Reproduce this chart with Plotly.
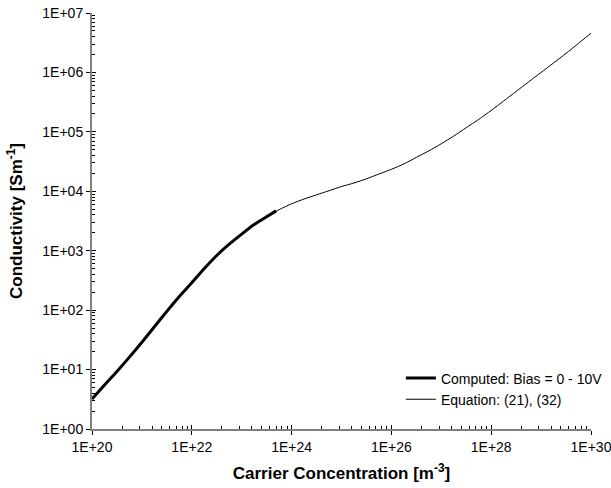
import plotly.graph_objects as go

# Equation (21), (32): conductivity [S/m] vs carrier concentration [m^-3]
eq_n = [1e20, 1.78e20, 3.16e20, 5.62e20,
        1e21, 1.78e21, 3.16e21, 5.62e21,
        1e22, 1.78e22, 3.16e22, 5.62e22,
        1e23, 1.78e23, 3.16e23, 5.62e23,
        1e24, 1.78e24, 3.16e24, 5.62e24,
        1e25, 1.78e25, 3.16e25, 5.62e25,
        1e26, 1.78e26, 3.16e26, 5.62e26,
        1e27, 1.78e27, 3.16e27, 5.62e27,
        1e28, 1.78e28, 3.16e28, 5.62e28,
        1e29, 1.78e29, 3.16e29, 5.62e29,
        1e30]
eq_sigma = [3.2, 5.5, 9.3, 16.2,
            28.8, 52.5, 95.5, 170,
            288, 501, 832, 1290,
            1905, 2754, 3715, 4898,
            6166, 7413, 8710, 10230,
            12020, 13800, 16220, 19500,
            23440, 28840, 37150, 47860,
            63100, 85110, 117500, 162200,
            229100, 331100, 478600, 691800,
            1000000, 1445000, 2089000, 3090000,
            4571000]

# Computed results for bias 0 - 10 V
comp_n = [1e20, 1.78e20, 3.16e20, 5.62e20,
          1e21, 1.78e21, 3.16e21, 5.62e21,
          1e22, 1.78e22, 3.16e22, 5.62e22,
          1e23, 1.78e23, 3.16e23, 4.9e23]
comp_sigma = [3.2, 5.5, 9.3, 16.2,
              28.8, 52.5, 95.5, 170,
              288, 501, 832, 1290,
              1905, 2754, 3715, 4680]

x_major = [1e20, 1e22, 1e24, 1e26, 1e28, 1e30]
x_labels = ["1E+20", "1E+22", "1E+24", "1E+26", "1E+28", "1E+30"]
y_major = [1e0, 1e1, 1e2, 1e3, 1e4, 1e5, 1e6, 1e7]
y_labels = ["1E+00", "1E+01", "1E+02", "1E+03", "1E+04", "1E+05", "1E+06", "1E+07"]

# minor ticks: base-100 axis -> k^2 steps, base-10 axis -> k steps
x_minor = [v * k * k for v in x_major[:-1] for k in range(2, 10)]
y_minor = [v * k for v in y_major[:-1] for k in range(2, 10)]

FONT = "Liberation Sans, Arial, sans-serif"
AXIS_GRAY = "#808080"
TICK_SIZE = 14
TITLE_SIZE = 17

fig = go.Figure()
fig.add_trace(go.Scatter(x=comp_n, y=comp_sigma, mode="lines",
                         line=dict(color="black", width=3, shape="spline", smoothing=0.6),
                         name="Computed: Bias = 0 - 10V"))
fig.add_trace(go.Scatter(x=eq_n, y=eq_sigma, mode="lines",
                         line=dict(color="black", width=1, shape="spline", smoothing=0.6),
                         name="Equation: (21), (32)"))
# helper trace for the inner half of the major ticks
fig.add_trace(go.Scatter(x=[1e25], y=[10], xaxis="x2", yaxis="y2", mode="markers",
                         marker=dict(opacity=0), showlegend=False, hoverinfo="skip"))

xrange = [20, 30]
yrange = [0, 7]

fig.update_layout(
    width=611, height=488, autosize=False,
    margin=dict(l=92, r=20, t=13, b=59, autoexpand=False),
    paper_bgcolor="white", plot_bgcolor="white",
    font=dict(family=FONT, size=TICK_SIZE, color="black"),
    xaxis=dict(
        type="log", range=xrange, showgrid=False, zeroline=False, automargin=False,
        showline=True, linecolor=AXIS_GRAY, linewidth=2,
        tickmode="array", tickvals=x_major, ticktext=x_labels,
        ticklabeloverflow="allow",
        ticks="outside", ticklen=4, tickcolor="black", tickwidth=1,
        minor=dict(tickmode="array", tickvals=x_minor, ticks="inside",
                   ticklen=3, tickcolor="black", tickwidth=1, showgrid=False),
        tickfont=dict(size=TICK_SIZE),
        title=dict(text="<b>Carrier Concentration [m<sup>-3</sup>]</b>",
                   font=dict(size=TITLE_SIZE), standoff=13),
    ),
    yaxis=dict(
        type="log", range=yrange, showgrid=False, zeroline=False, automargin=False,
        showline=True, linecolor=AXIS_GRAY, linewidth=2,
        tickmode="array", tickvals=y_major, ticktext=y_labels,
        ticklabeloverflow="allow",
        ticks="outside", ticklen=4, tickcolor="black", tickwidth=1,
        minor=dict(tickmode="array", tickvals=y_minor, ticks="inside",
                   ticklen=3, tickcolor="black", tickwidth=1, showgrid=False),
        tickfont=dict(size=TICK_SIZE),
        title=dict(text="<b>Conductivity [Sm<sup>-1</sup>]</b>",
                   font=dict(size=TITLE_SIZE), standoff=15),
    ),
    xaxis2=dict(
        type="log", range=xrange, overlaying="x", anchor="y2", side="bottom",
        showgrid=False, zeroline=False, showline=False, automargin=False,
        tickmode="array", tickvals=x_major, showticklabels=False,
        ticks="inside", ticklen=4, tickcolor="black", tickwidth=1,
    ),
    yaxis2=dict(
        type="log", range=yrange, overlaying="y", anchor="x2", side="left",
        showgrid=False, zeroline=False, showline=False, automargin=False,
        tickmode="array", tickvals=y_major, showticklabels=False,
        ticks="inside", ticklen=4, tickcolor="black", tickwidth=1,
    ),
    legend=dict(
        x=0.619, y=0.16, xanchor="left", yanchor="top",
        bgcolor="rgba(0,0,0,0)", borderwidth=0,
        font=dict(size=TICK_SIZE, family=FONT), tracegroupgap=0,
        itemwidth=30,
    ),
    showlegend=True,
)

fig.write_html("out.html")
